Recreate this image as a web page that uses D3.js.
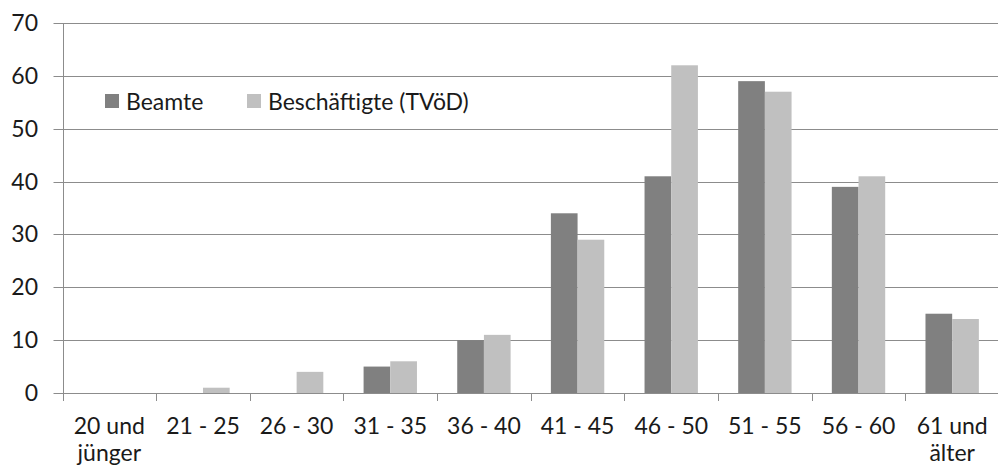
<!DOCTYPE html>
<html>
<head>
<meta charset="utf-8">
<script src="https://cdn.jsdelivr.net/npm/d3@7"></script>
<style>
  html, body { margin: 0; padding: 0; background: #fff; }
  svg { display: block; }
  text { font-family: Lato, "Open Sans", sans-serif; fill: #1a1a1a; }
</style>
</head>
<body>
<svg id="chart" width="998" height="474"></svg>
<script>
const categories = ["20 und\njünger", "21 - 25", "26 - 30", "31 - 35", "36 - 40", "41 - 45", "46 - 50", "51 - 55", "56 - 60", "61 und\nälter"];
const seriesNames = ["Beamte", "Beschäftigte (TVöD)"];
const beamte = [0, 0, 0, 5, 10, 34, 41, 59, 39, 15];
const beschaeftigte = [0, 1, 4, 6, 11, 29, 62, 57, 41, 14];
const yTicks = [0, 10, 20, 30, 40, 50, 60, 70];
const colors = ["#808080", "#c0c0c0"];

const svg = d3.select("#chart");
const margin = {left: 62.5, right: -1, top: 23, bottom: 81};
const W = 998, H = 474;
const x0 = d3.scaleBand().domain(d3.range(categories.length))
  .range([margin.left, W - margin.right]).paddingInner(0).paddingOuter(0);
const groupPad = 0.43;
const x1 = d3.scaleBand().domain(d3.range(seriesNames.length))
  .range([x0.bandwidth() * groupPad / 2, x0.bandwidth() * (1 - groupPad / 2)]);
const y = d3.scaleLinear().domain([0, 70]).range([H - margin.bottom, margin.top]);

const gridColor = "#8c8c8c";
const fontSize = 23;

// gridlines
svg.append("g").selectAll("line").data(yTicks).join("line")
  .attr("x1", margin.left - 9).attr("x2", W)
  .attr("y1", d => Math.round(y(d)) + 0.5).attr("y2", d => Math.round(y(d)) + 0.5)
  .attr("stroke", gridColor).attr("stroke-width", 1);

// y axis line
svg.append("line")
  .attr("x1", Math.round(margin.left) + 0.5).attr("x2", Math.round(margin.left) + 0.5)
  .attr("y1", y(70)).attr("y2", y(0) + 8)
  .attr("stroke", gridColor);

// y labels
svg.append("g").selectAll("text").data(yTicks).join("text")
  .attr("x", 38).attr("y", d => y(d) - 1)
  .attr("text-anchor", "end").attr("dominant-baseline", "central")
  .style("font-size", fontSize + "px")
  .text(d => d);

// bars
const data = [beamte, beschaeftigte];
const groups = svg.append("g").selectAll("g").data(categories).join("g")
  .attr("transform", (d, i) => `translate(${x0(i)},0)`);
groups.selectAll("rect").data((d, i) => data.map((s, k) => ({k, v: s[i]})))
  .join("rect")
  .attr("x", d => x1(d.k)).attr("width", x1.bandwidth())
  .attr("y", d => y(d.v)).attr("height", d => y(0) - y(d.v))
  .attr("fill", d => colors[d.k]);

// x axis ticks
const boundaries = d3.range(categories.length + 1).map(i => i < categories.length ? x0(i) : x0(categories.length - 1) + x0.bandwidth());
svg.append("g").selectAll("line").data(boundaries).join("line")
  .attr("x1", d => Math.round(d) + 0.5).attr("x2", d => Math.round(d) + 0.5)
  .attr("y1", y(0)).attr("y2", y(0) + 8)
  .attr("stroke", gridColor);

// x labels
const xl = svg.append("g").selectAll("text").data(categories).join("text")
  .attr("text-anchor", "middle")
  .style("font-size", fontSize + "px")
  .attr("transform", (d, i) => `translate(${x0(i) + x0.bandwidth() / 2},434)`);
xl.selectAll("tspan").data(d => d.split("\n")).join("tspan")
  .attr("x", 0).attr("dy", (d, j) => j === 0 ? 0 : 27)
  .text(d => d);

// legend
const legendX = [105, 247];
const lg = svg.append("g").selectAll("g").data(seriesNames).join("g")
  .attr("transform", (d, i) => `translate(${legendX[i]},0)`);
lg.append("rect").attr("x", 0).attr("y", 94).attr("width", 14).attr("height", 14)
  .attr("fill", (d, i) => colors[i]);
lg.append("text").attr("x", 21).attr("y", 110)
  .style("font-size", fontSize + "px").text(d => d);
</script>
</body>
</html>
